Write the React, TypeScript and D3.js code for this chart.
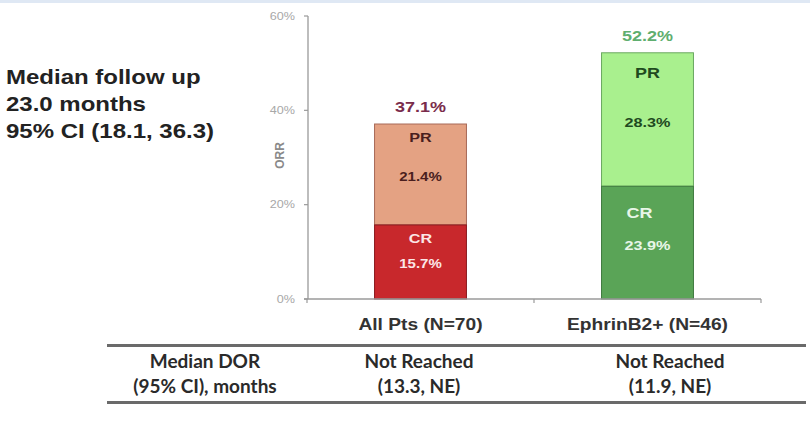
import React from "react";
import * as d3 from "d3";

// response rates per cohort, stacked CR + PR
const groups = ["All Pts (N=70)", "EphrinB2+ (N=46)"];
const crValues = [15.7, 23.9];
const prValues = [21.4, 28.3];
const orrTotals = [37.1, 52.2];
const yTicks = [0, 20, 40, 60];

// table under the chart
const tableRowHead = ["Median DOR", "(95% CI), months"];
const dorLine1 = ["Not Reached", "Not Reached"];
const dorLine2 = ["(13.3, NE)", "(11.9, NE)"];

const followUp = ["Median follow up", "23.0 months", "95% CI (18.1, 36.3)"];

const palette = [
  { cr: "#c8282c", crEdge: "#8a1c20", pr: "#e4a283", prEdge: "#a86a58", total: "#7a2c4c", prText: "#4a1e1e", crText: "#fbe6e6" },
  { cr: "#5aa457", crEdge: "#3f7a3f", pr: "#a9f08e", prEdge: "#6aa860", total: "#5fae6f", prText: "#1f4a1f", crText: "#e8f6e8" },
];

// slide text is a little wide, so glyphs get a horizontal stretch
const SX = 1.2;

function SText({ x, y, sx = SX, children, ...rest }: any) {
  return (
    <text transform={`translate(${x},${y}) scale(${sx},1)`} {...rest}>
      {children}
    </text>
  );
}

export default function App() {
  const width = 810;
  const height = 422;

  const y = d3.scaleLinear().domain([0, 60]).range([299, 16]);
  const x = d3.scaleBand<string>().domain(groups).range([307, 761]);
  const barW = x.bandwidth() * 0.405;
  const center = (g: string) => (x(g) ?? 0) + x.bandwidth() / 2;

  const arial = "Liberation Sans, Arial, sans-serif";
  const tableFont = "Lato, Carlito, sans-serif";
  const tableCols = [205, 419, 670];

  // per-bar label sizes and offsets
  const lbl = [
    { prSize: 13.5, prDy: 18, prValDy: 57, crDy: 18, crValDy: 43, valSize: 12.5, crDx: 0 },
    { prSize: 15, prDy: 25, prValDy: 74, crDy: 32, crValDy: 64, valSize: 13.5, crDx: -8 },
  ];

  return (
    <svg
      width={width}
      height={height}
      style={{ position: "absolute", left: 0, top: 0, background: "#fff" }}
    >
      <rect x={0} y={0} width={width} height={3} fill="#dfe8f4" />

      {/* left note */}
      {followUp.map((t, i) => (
        <SText key={t} x={6} y={84 + i * 27} fontFamily={arial} fontWeight="bold" fontSize={20} fill="#222">
          {t}
        </SText>
      ))}

      {/* y axis */}
      <line x1={308} x2={308} y1={y(60)} y2={y(0)} stroke="#9a9a9a" strokeWidth={1.3} />
      {yTicks.map((t) => (
        <g key={t}>
          <line x1={304} x2={308} y1={y(t)} y2={y(t)} stroke="#9a9a9a" strokeWidth={1.2} />
          <SText x={295} y={y(t) + 3.5} textAnchor="end" fontFamily={arial} fontSize={10.5} fill="#a8a8a8">
            {t}%
          </SText>
        </g>
      ))}
      <text
        transform={`translate(284,${y(30) - 2}) rotate(-90)`}
        textAnchor="middle"
        fontFamily={arial}
        fontSize={12}
        fontWeight="bold"
        fill="#8a8a8a"
      >
        ORR
      </text>

      {/* bars */}
      {groups.map((g, i) => {
        const c = palette[i];
        const l = lbl[i];
        const x0 = center(g) - barW / 2;
        const cx = center(g);
        const crTop = y(crValues[i]);
        const prTop = y(crValues[i] + prValues[i]);
        return (
          <g key={g}>
            <rect x={x0} y={prTop} width={barW} height={crTop - prTop} fill={c.pr} stroke={c.prEdge} strokeWidth={1} />
            <rect x={x0} y={crTop} width={barW} height={y(0) - crTop} fill={c.cr} stroke={c.crEdge} strokeWidth={1} />
            <SText x={cx} y={prTop + l.prDy} textAnchor="middle" fontFamily={arial} fontWeight="bold" fontSize={l.prSize} fill={c.prText}>
              PR
            </SText>
            <SText x={cx} y={prTop + l.prValDy} textAnchor="middle" fontFamily={arial} fontWeight="bold" fontSize={l.valSize} fill={c.prText}>
              {prValues[i].toFixed(1)}%
            </SText>
            <SText x={cx + l.crDx} y={crTop + l.crDy} textAnchor="middle" fontFamily={arial} fontWeight="bold" fontSize={l.prSize} fill={c.crText}>
              CR
            </SText>
            <SText x={cx} y={crTop + l.crValDy} textAnchor="middle" fontFamily={arial} fontWeight="bold" fontSize={l.valSize} fill={c.crText}>
              {crValues[i].toFixed(1)}%
            </SText>
            <SText x={cx} y={y(orrTotals[i]) - 12} textAnchor="middle" fontFamily={arial} fontWeight="bold" fontSize={15} fill={c.total}>
              {orrTotals[i].toFixed(1)}%
            </SText>
          </g>
        );
      })}

      {/* x axis */}
      <line x1={304} x2={761} y1={y(0)} y2={y(0)} stroke="#9a9a9a" strokeWidth={1.3} />
      {[307, ...groups.map((g) => (x(g) ?? 0) + x.bandwidth())].map((t) => (
        <line key={t} x1={t} x2={t} y1={y(0)} y2={y(0) + 4} stroke="#9a9a9a" strokeWidth={1.2} />
      ))}
      {groups.map((g) => (
        <SText key={g} x={center(g)} y={330} textAnchor="middle" fontFamily={arial} fontWeight="bold" fontSize={16} fill="#333">
          {g}
        </SText>
      ))}

      {/* DOR table */}
      <line x1={107} x2={806} y1={345.5} y2={345.5} stroke="#6a6a6a" strokeWidth={3} />
      <line x1={107} x2={806} y1={402.5} y2={402.5} stroke="#6a6a6a" strokeWidth={3} />
      {tableRowHead.map((t, i) => (
        <text key={t} x={tableCols[0]} y={368 + i * 25} textAnchor="middle" fontFamily={tableFont} fontWeight="bold" fontSize={19} fill="#2a2a2a">
          {t}
        </text>
      ))}
      {groups.map((g, i) => (
        <g key={g}>
          <text x={tableCols[i + 1]} y={368} textAnchor="middle" fontFamily={tableFont} fontWeight="bold" fontSize={19} fill="#2a2a2a">
            {dorLine1[i]}
          </text>
          <text x={tableCols[i + 1]} y={393} textAnchor="middle" fontFamily={tableFont} fontWeight="bold" fontSize={19} fill="#2a2a2a">
            {dorLine2[i]}
          </text>
        </g>
      ))}
    </svg>
  );
}
